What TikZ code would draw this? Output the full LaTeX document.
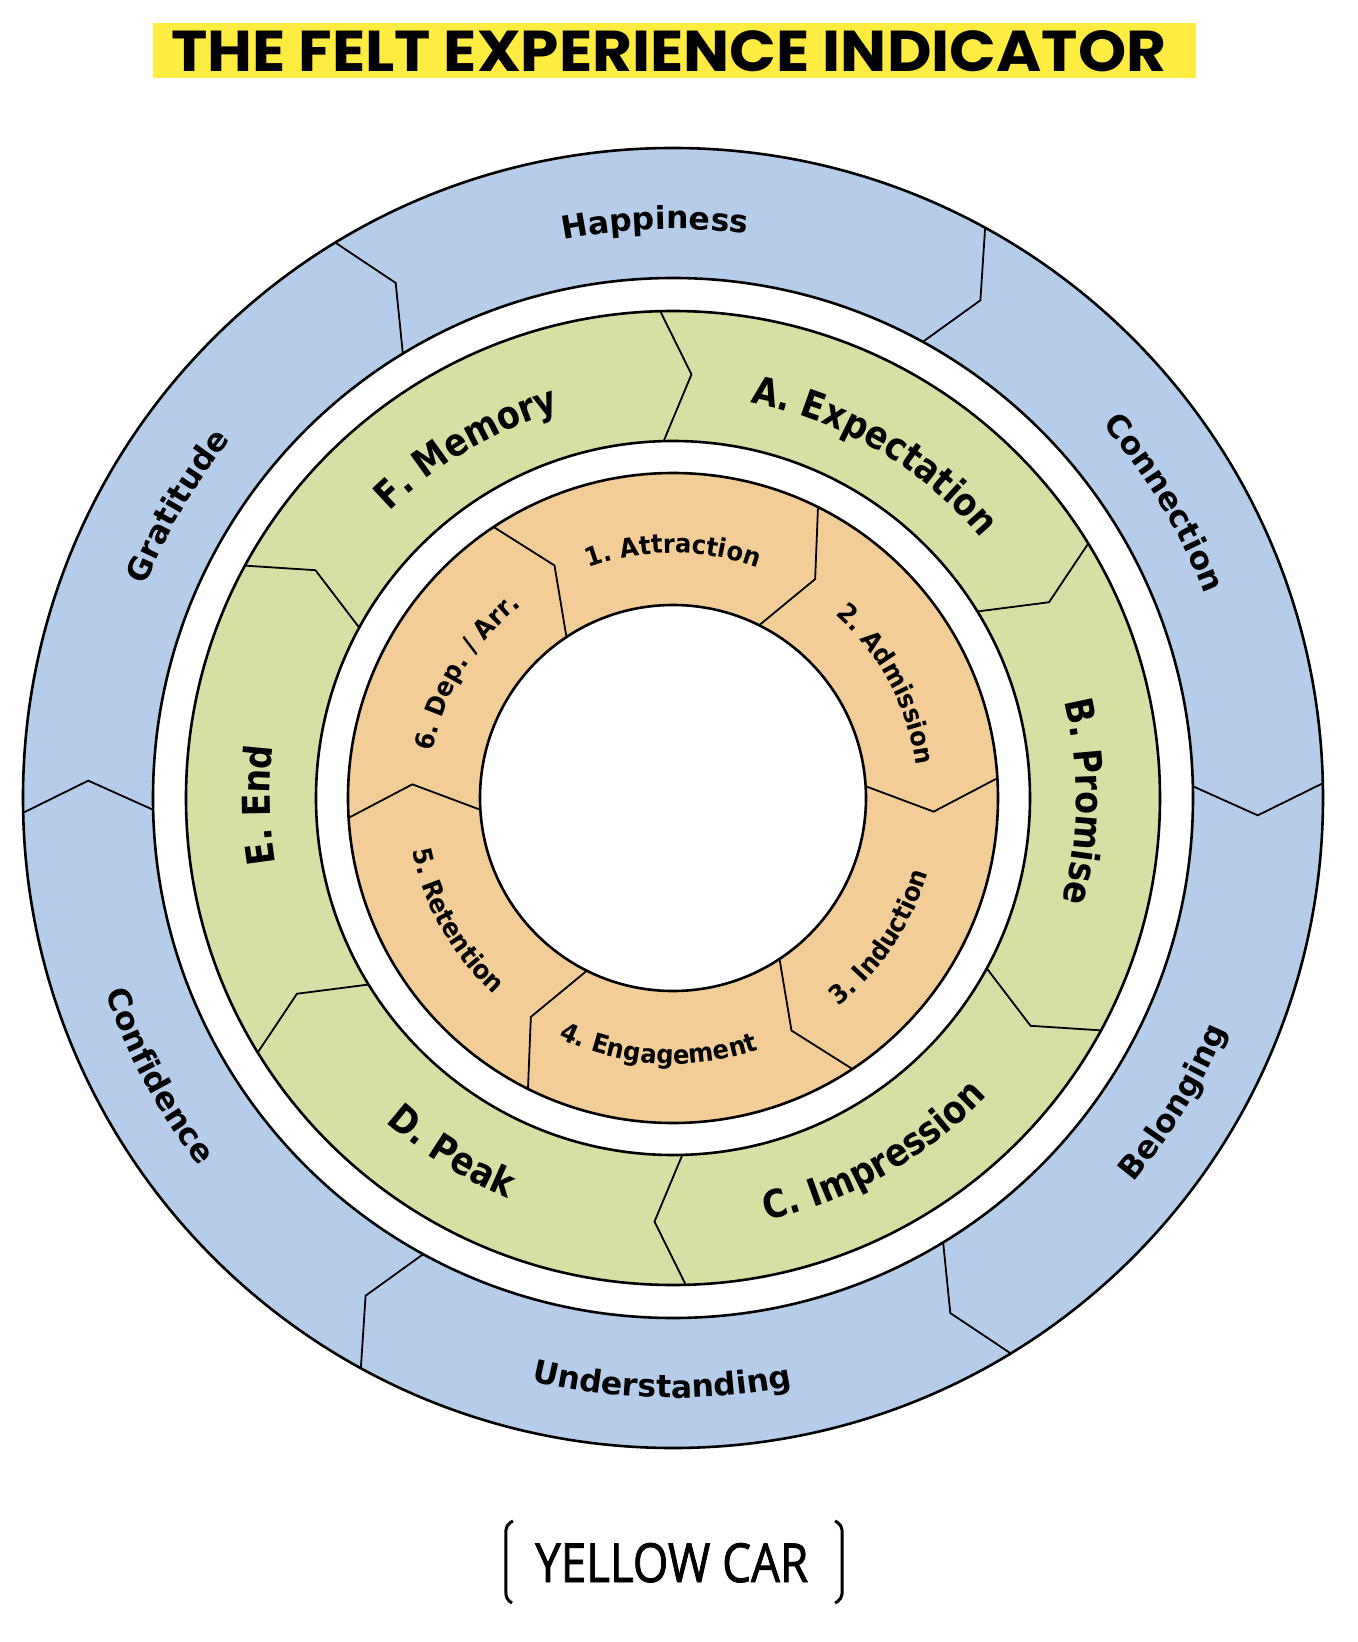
\documentclass[tikz,border=0pt]{standalone}
\usepackage{fontspec}
\usetikzlibrary{decorations.text}
\newfontfamily\dvs{DejaVu Sans}
\newfontfamily\dvsG[FakeStretch=0.87]{DejaVu Sans}
\newfontfamily\dvsO[FakeStretch=0.93]{DejaVu Sans}
\newfontfamily\osans[FakeBold=1.6]{Open Sans}
\newfontfamily\ttlfont{Poppins}
\newcommand\fBlue{\dvs\bfseries\fontsize{31.5}{36}\selectfont}
\newcommand\fGreen{\dvsG\bfseries\fontsize{38.4}{42}\selectfont}
\newcommand\fOrange{\dvsO\bfseries\fontsize{26}{30}\selectfont}
\definecolor{bluefill}{RGB}{181,205,235}
\definecolor{greenfill}{RGB}{214,224,164}
\definecolor{orangefill}{RGB}{243,205,152}
\definecolor{titleyellow}{RGB}{255,236,64}
% clockwise label (tops outward): font, text, centre angle, baseline radius
\newcommand\cwlab[4]{\path[decorate,decoration={text along path,text align=center,text={|#1|#2}}]
  ({#3+40}:#4pt) arc[start angle={#3+40}, end angle={#3-40}, radius=#4pt];}
% counter-clockwise label (tops inward)
\newcommand\ccwlab[4]{\path[decorate,decoration={text along path,text align=center,text={|#1|#2}}]
  ({#3-40}:#4pt) arc[start angle={#3-40}, end angle={#3+40}, radius=#4pt];}
\begin{document}
\begin{tikzpicture}[x=1pt,y=1pt,
  ringline/.style={line width=2.6pt,black},
  divline/.style={line width=1.8pt,black,line join=miter}]
\useasboundingbox (-673,-844) rectangle (685,798);
\coordinate (c) at (0,0);

% ---- title
\fill[titleyellow] (-520,720) rectangle (523,775);
\node[anchor=base west,inner sep=0pt] (title) at (-502,726.3)
  {\resizebox{995pt}{41pt}{\ttlfont\bfseries THE FELT EXPERIENCE INDICATOR}};

% ---- blue ring
\fill[bluefill,even odd rule,shift={(-1.5,-3.5)}] (c) circle[radius=650pt] (c) circle[radius=520pt];
\draw[ringline] (c) circle[radius=650pt];
\draw[ringline] (c) circle[radius=520pt];
\foreach \a in {1.3,61.3,121.3,181.3,241.3,301.3}
  \draw[divline] (\a:650pt) -- ({\a-3}:585pt) -- (\a:520pt);

% ---- green ring
\fill[greenfill,even odd rule] (c) circle[radius=487pt] (c) circle[radius=357pt];
\draw[ringline] (c) circle[radius=487pt];
\draw[ringline] (c) circle[radius=357pt];
\foreach \a in {31.5,91.5,151.5,211.5,271.5,331.5}
  \draw[divline] (\a:487pt) -- ({\a-4}:424pt) -- (\a:357pt);

% ---- orange ring
\fill[orangefill,even odd rule] (c) circle[radius=325pt] (c) circle[radius=193pt];
\draw[ringline] (c) circle[radius=325pt];
\draw[ringline] (c) circle[radius=193pt];
\foreach \a in {3.5,63.5,123.5,183.5,243.5,303.5}
  \draw[divline] (\a:325pt) -- ({\a-6.5}:261pt) -- (\a:193pt);

% ---- blue labels
\cwlab{\fBlue}{Happiness}{91.8}{569}
\cwlab{\fBlue}{Connection}{31}{569}
\ccwlab{\fBlue}{Belonging}{328.7}{600}
\ccwlab{\fBlue}{Understanding}{268.9}{600}
\ccwlab{\fBlue}{Confidence}{208.4}{600}
\cwlab{\fBlue}{Gratitude}{149.5}{569}

% ---- green labels
\cwlab{\fGreen}{A. Expectation}{59.5}{403}
\cwlab{\fGreen}{B. Promise}{359.5}{403}
\ccwlab{\fGreen}{C. Impression}{299.5}{433}
\ccwlab{\fGreen}{D. Peak}{238}{433}
\cwlab{\fGreen}{E. End}{181}{403}
\cwlab{\fGreen}{F. Memory}{120.5}{403}

% ---- orange labels
\cwlab{\fOrange}{1. Attraction}{90}{245}
\cwlab{\fOrange}{2. Admission}{28}{245}
\ccwlab{\fOrange}{3. Induction}{326}{266}
\ccwlab{\fOrange}{4. Engagement}{266.6}{266}
\ccwlab{\fOrange}{5. Retention}{209.6}{266}
\cwlab{\fOrange}{6. Dep. / Arr.}{148.6}{245}

% ---- brand
\node[anchor=base west,inner sep=0pt] (brand) at (-138,-784)
  {\resizebox{273pt}{39pt}{\osans YELLOW CAR}};
\draw[line width=3pt,rounded corners=5pt] (-160,-723) -- (-167,-727) -- (-167,-801) -- (-161,-805);
\draw[line width=3pt,rounded corners=5pt] (162,-723) -- (169,-727) -- (169,-801) -- (162,-805);
\end{tikzpicture}
\end{document}
